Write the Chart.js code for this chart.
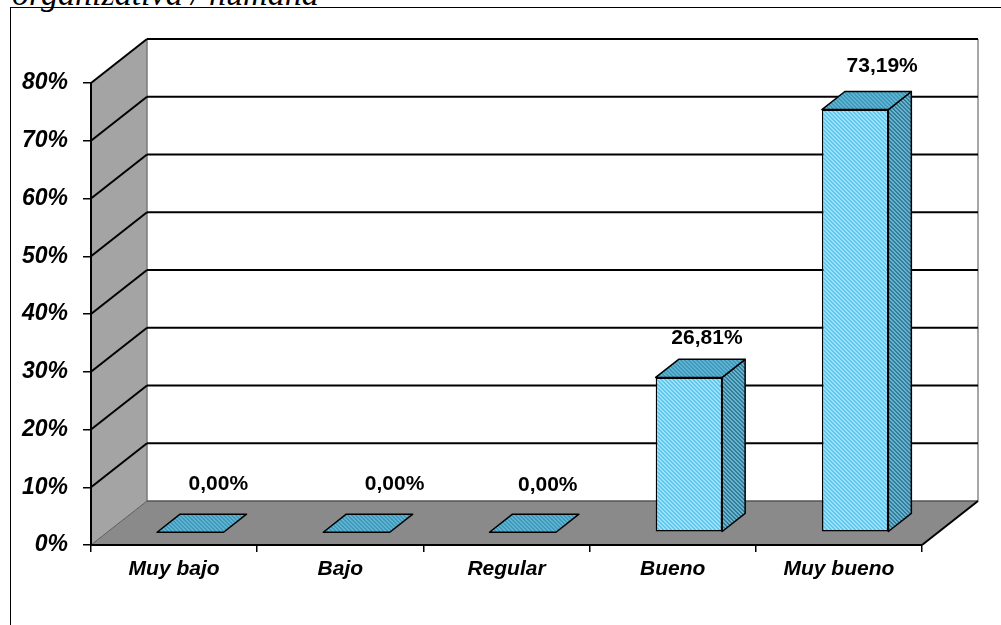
<!DOCTYPE html>
<html>
<head>
<meta charset="utf-8">
<script src="https://cdn.jsdelivr.net/npm/chart.js@4/dist/chart.umd.min.js"></script>
<style>
  html, body { margin: 0; padding: 0; background: #fff; }
  #wrap { position: relative; width: 1001px; height: 625px; overflow: hidden; }
  #caption { position: absolute; left: 12px; top: -25px; white-space: nowrap;
             font: italic 34px "Liberation Serif", "Times New Roman", serif; color: #000; }
  #frame { position: absolute; left: 10px; top: 7px; width: 1100px; height: 700px;
           border-left: 1px solid #000; border-top: 1px solid #000; }
  canvas { position: absolute; left: 0; top: 0; }
</style>
</head>
<body>
<div id="wrap">
  <div id="caption">organizativa / humana</div>
  <div id="frame"></div>
  <canvas id="chart" width="1001" height="625"></canvas>
</div>
<script>
// Data
var categories = ['Muy bajo', 'Bajo', 'Regular', 'Bueno', 'Muy bueno'];
var percentValues = [0, 0, 0, 26.81, 73.19];
var yMax = 80;
var yStep = 10;

// ---------------------------------------------------------------------------
// 3D look (Excel style): wall depth, bar offset inside the depth, colours
// ---------------------------------------------------------------------------

var WALL_DX = 56, WALL_DY = -44;       // full depth of the floor / side wall
var BAR_FRONT = 0.29;                  // bar front face, fraction of depth
var BAR_DEPTH = 0.41;                  // bar thickness, fraction of depth
var labelNudgeX = [28, 38, 25, 18, 27];
var labelNudgeY = [-30, -30, -29, -21, -25];

function makePattern(base, stripe) {
  var c = document.createElement('canvas');
  c.width = 4; c.height = 4;
  var g = c.getContext('2d');
  g.fillStyle = base;
  g.fillRect(0, 0, 4, 4);
  g.fillStyle = stripe;
  for (var y = 0; y < 4; y++) {
    for (var x = 0; x < 4; x++) {
      if (((x - y) % 4 + 4) % 4 < 2) g.fillRect(x, y, 1, 1);
    }
  }
  return g.createPattern(c, 'repeat');
}

var frontFill = makePattern('#b0eafc', '#4cc0ec');
var sideFill = makePattern('#6cb2cc', '#2f7f9c');
var topFill = makePattern('#5eb4d2', '#3f98ba');

var fdx = WALL_DX * BAR_FRONT, fdy = WALL_DY * BAR_FRONT;
var bdx = WALL_DX * BAR_DEPTH, bdy = WALL_DY * BAR_DEPTH;

function poly(ctx, pts, fill, stroke, width) {
  ctx.beginPath();
  ctx.moveTo(pts[0][0], pts[0][1]);
  for (var i = 1; i < pts.length; i++) ctx.lineTo(pts[i][0], pts[i][1]);
  ctx.closePath();
  if (fill) { ctx.fillStyle = fill; ctx.fill(); }
  if (stroke) { ctx.strokeStyle = stroke; ctx.lineWidth = width || 1; ctx.stroke(); }
}

function line(ctx, x1, y1, x2, y2, color, width) {
  ctx.beginPath();
  ctx.moveTo(x1, y1);
  ctx.lineTo(x2, y2);
  ctx.strokeStyle = color;
  ctx.lineWidth = width;
  ctx.stroke();
}

var box3d = {
  id: 'box3d',
  // walls, floor and gridlines go under the axes
  beforeDraw: function (chart) {
    var ctx = chart.ctx, a = chart.chartArea, ys = chart.scales.y;
    var L = a.left, R = a.right, T = a.top, B = a.bottom;
    ctx.save();
    // back wall
    ctx.fillStyle = '#ffffff';
    ctx.fillRect(L + WALL_DX, T + WALL_DY, R - L, B - T);
    // side wall
    poly(ctx, [[L, B], [L, T], [L + WALL_DX, T + WALL_DY], [L + WALL_DX, B + WALL_DY]], '#a4a4a4');
    // floor
    poly(ctx, [[L, B], [R, B], [R + WALL_DX, B + WALL_DY], [L + WALL_DX, B + WALL_DY]], '#8a8a8a');
    // wall edges
    line(ctx, L + WALL_DX, T + WALL_DY, L + WALL_DX, B + WALL_DY, '#7a7a7a', 1.5);
    line(ctx, R + WALL_DX, T + WALL_DY, R + WALL_DX, B + WALL_DY, '#8a8a8a', 1.5);
    line(ctx, L, B, L + WALL_DX, B + WALL_DY, '#5a5a5a', 1);
    line(ctx, L + WALL_DX, B + WALL_DY, R + WALL_DX, B + WALL_DY, '#555555', 1.5);
    line(ctx, R, B, R + WALL_DX, B + WALL_DY, '#000000', 2);
    // gridlines on side wall and back wall
    for (var v = yStep; v <= yMax; v += yStep) {
      var y = ys.getPixelForValue(v);
      line(ctx, L, y, L + WALL_DX, y + WALL_DY, '#000000', 2);
      line(ctx, L + WALL_DX, y + WALL_DY, R + WALL_DX, y + WALL_DY, '#000000', 2);
    }
    ctx.restore();
  },
  beforeDatasetsDraw: function (chart) {
    chart.ctx.save();
    chart.ctx.translate(fdx, fdy);
  },
  afterDatasetsDraw: function (chart) {
    var ctx = chart.ctx;
    ctx.restore();
    var meta = chart.getDatasetMeta(0);
    ctx.save();
    ctx.lineJoin = 'round';
    meta.data.forEach(function (el, i) {
      var xL = el.x - el.width / 2 + fdx;
      var xR = el.x + el.width / 2 + fdx;
      var yT = el.y + fdy;
      var yB = el.base + fdy;
      if (yB - yT > 0.5) {
        poly(ctx, [[xR, yT], [xR + bdx, yT + bdy], [xR + bdx, yB + bdy], [xR, yB]], sideFill, '#000', 1.5);
      }
      poly(ctx, [[xL, yT], [xR, yT], [xR + bdx, yT + bdy], [xL + bdx, yT + bdy]], topFill, '#000', 1.5);

      // value label
      ctx.fillStyle = '#000';
      ctx.font = 'bold 21px "Liberation Sans", Arial, sans-serif';
      ctx.textAlign = 'center';
      ctx.textBaseline = 'middle';
      var txt = percentValues[i].toFixed(2).replace('.', ',') + '%';
      ctx.fillText(txt, el.x + fdx + labelNudgeX[i], yT + bdy + labelNudgeY[i]);
    });
    ctx.restore();
  }
};

var axisFont = { family: '"Liberation Sans", Arial, sans-serif', weight: 'bold', style: 'italic' };

new Chart(document.getElementById('chart'), {
  type: 'bar',
  data: {
    labels: categories,
    datasets: [{
      data: percentValues,
      backgroundColor: frontFill,
      borderColor: '#000000',
      borderWidth: 1.5,
      borderSkipped: false,
      categoryPercentage: 1,
      barPercentage: 0.4
    }]
  },
  options: {
    responsive: false,
    animation: false,
    layout: { padding: { top: 83, right: 79, left: 0, bottom: 0 } },
    plugins: { legend: { display: false }, tooltip: { enabled: false } },
    scales: {
      x: {
        grid: { offset: true, drawOnChartArea: false, tickLength: 7, color: '#000', lineWidth: 1.5 },
        border: { display: true, color: '#000', width: 2 },
        ticks: { color: '#000', padding: 5, font: Object.assign({ size: 21 }, axisFont) },
        afterFit: function (s) { s.height = 80; }
      },
      y: {
        min: 0,
        max: yMax,
        grid: { drawOnChartArea: false, tickLength: 8, color: '#000', lineWidth: 1.5 },
        border: { display: true, color: '#000', width: 2 },
        ticks: {
          stepSize: yStep,
          color: '#000',
          padding: 15,
          font: Object.assign({ size: 23 }, axisFont),
          callback: function (v) { return v + '%'; }
        },
        afterFit: function (s) { s.width = 91; }
      }
    }
  },
  plugins: [box3d]
});
</script>
</body>
</html>
